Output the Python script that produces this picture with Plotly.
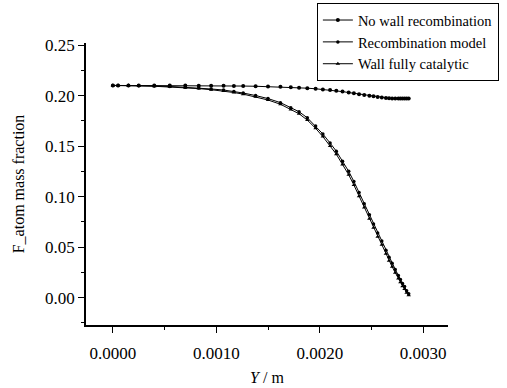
import plotly.graph_objects as go

# Distance from axis (m)
y_pos = [0.0, 0.00005, 0.00015, 0.00025, 0.0004, 0.00055, 0.0007, 0.00083, 0.00095,
         0.00107, 0.00117, 0.00126, 0.00138, 0.0015, 0.00162, 0.00172, 0.0018, 0.00188,
         0.00196, 0.00203, 0.0021, 0.00216, 0.00222, 0.00228, 0.00233, 0.00238, 0.00243,
         0.00248, 0.00252, 0.00256, 0.0026, 0.00264, 0.00267, 0.0027, 0.00273, 0.00276,
         0.00278, 0.0028, 0.00282, 0.00284, 0.00286]

no_wall_recomb = [0.210, 0.210, 0.210, 0.210, 0.210, 0.210, 0.2099, 0.2098, 0.2097,
                  0.2096, 0.2095, 0.2094, 0.2092, 0.2089, 0.2086, 0.2082, 0.2078, 0.2073,
                  0.2067, 0.2061, 0.2054, 0.2047, 0.2039, 0.2030, 0.2022, 0.2014, 0.2006,
                  0.1998, 0.1992, 0.1986, 0.1981, 0.1977, 0.1974, 0.1972, 0.1971, 0.1970,
                  0.1970, 0.1970, 0.1970, 0.1970, 0.1970]

recomb_model = [0.210, 0.210, 0.210, 0.2098, 0.2095, 0.2090, 0.2083, 0.2075, 0.2065,
                0.2055, 0.2040, 0.2025, 0.2000, 0.1970, 0.1930, 0.1880, 0.1840, 0.1780,
                0.1700, 0.1620, 0.1530, 0.1450, 0.1350, 0.1250, 0.1150, 0.1040, 0.0930,
                0.0820, 0.0730, 0.0640, 0.0560, 0.0470, 0.0400, 0.0340, 0.0280, 0.0220,
                0.0180, 0.0140, 0.0110, 0.0070, 0.0040]

wall_catalytic = [0.210, 0.210, 0.2099, 0.2096, 0.2092, 0.2086, 0.2078, 0.2069, 0.2058,
                  0.2046, 0.2030, 0.2014, 0.1988, 0.1956, 0.1914, 0.1862, 0.1820, 0.1757,
                  0.1676, 0.1594, 0.1502, 0.1420, 0.1318, 0.1216, 0.1115, 0.1004, 0.0893,
                  0.0782, 0.0692, 0.0603, 0.0523, 0.0434, 0.0366, 0.0307, 0.0248, 0.0190,
                  0.0152, 0.0114, 0.0086, 0.0050, 0.0025]

series_names = ["No wall recombination", "Recombination model", "Wall fully catalytic"]

x_ticks = [0.0, 0.001, 0.002, 0.003]
x_tick_labels = ["0.0000", "0.0010", "0.0020", "0.0030"]
y_ticks = [0.0, 0.05, 0.10, 0.15, 0.20, 0.25]
y_tick_labels = ["0.00", "0.05", "0.10", "0.15", "0.20", "0.25"]

FONT = '"Liberation Serif"'

fig = go.Figure()
symbols = ["circle", "circle", "triangle-up"]
sizes = [4, 3.5, 4]
for name, vals, sym, sz in zip(series_names, [no_wall_recomb, recomb_model, wall_catalytic], symbols, sizes):
    fig.add_trace(go.Scatter(
        x=y_pos, y=vals, name=name, mode="lines+markers",
        line=dict(color="black", width=1),
        marker=dict(symbol=sym, size=sz, color="black"),
    ))

fig.update_layout(
    width=507, height=388,
    margin=dict(l=86, r=59, t=43, b=63, autoexpand=False),
    paper_bgcolor="white", plot_bgcolor="white",
    font=dict(family=FONT, color="black", size=17),
    showlegend=True,
    legend=dict(
        xref="container", yref="container",
        x=0.625, y=0.992, xanchor="left", yanchor="top",
        bordercolor="black", borderwidth=1, bgcolor="white",
        font=dict(family=FONT, size=14.5, color="black"),
        tracegroupgap=0, itemwidth=30,
    ),
    xaxis=dict(
        range=[-0.00026, 0.00324],
        tickvals=x_ticks, ticktext=x_tick_labels,
        ticks="outside", ticklen=6, tickwidth=1, tickcolor="black",
        minor=dict(ticks="outside", ticklen=3, dtick=0.0005, tickcolor="black", tickwidth=1),
        showline=True, linecolor="black", linewidth=1.5, mirror=False,
        showgrid=False, zeroline=False,
        ticklabelstandoff=6,
        title=dict(text="<i>Y</i> / m", font=dict(family=FONT, size=16), standoff=10),
        tickfont=dict(family=FONT, size=17),
    ),
    yaxis=dict(
        range=[-0.027, 0.252],
        tickvals=y_ticks, ticktext=y_tick_labels,
        ticks="outside", ticklen=6, tickwidth=1, tickcolor="black",
        minor=dict(ticks="outside", ticklen=3, dtick=0.025, tickcolor="black", tickwidth=1),
        showline=True, linecolor="black", linewidth=1.5, mirror=False,
        showgrid=False, zeroline=False,
        title=dict(text="F_atom mass fraction", font=dict(family=FONT, size=16), standoff=16),
        tickfont=dict(family=FONT, size=17),
    ),
)

fig.write_html("out.html", config={"displayModeBar": False},
               post_script="document.body.style.margin='0';")
